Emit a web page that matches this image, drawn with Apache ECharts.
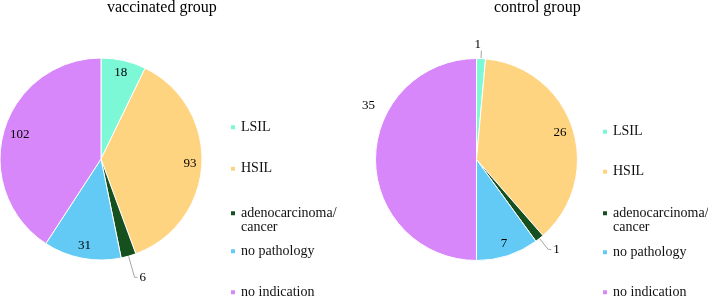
<!DOCTYPE html>
<html><head><meta charset="utf-8">
<script src="https://cdn.jsdelivr.net/npm/echarts@6/dist/echarts.min.js"></script>
<style>html,body{margin:0;padding:0;background:#fff}#c{width:708px;height:298px}</style>
</head><body><div id="c"></div>
<script>
const categories = ['LSIL', 'HSIL', 'adenocarcinoma/\ncancer', 'no pathology', 'no indication'];
const vaccinatedValues = [18, 93, 6, 31, 102];
const controlValues = [1, 26, 1, 7, 35];
const groupTitles = ['vaccinated group', 'control group'];
const sliceColors = ['#7CF8D6', '#FFD480', '#16501F', '#62CAF4', '#D787FA'];

const FONT = '"Liberation Serif","Times New Roman",serif';
const groups = [
  { title: groupTitles[0], values: vaccinatedValues, center: [101, 159], radius: 101,
    titleLeft: 107, legendLeft: 229, iconW: 6, legendCenters: [127, 168.5, 212.5, 251, 292],
    lines: { 2: [22, 3] }, insideShift: {}, outsideShift: {} },
  { title: groupTitles[1], values: controlValues, center: [476.5, 159.5], radius: 101,
    titleLeft: 494, legendLeft: 601, iconW: 6, legendCenters: [131.5, 171.5, 212.5, 252, 292],
    lines: { 0: [8, 0], 2: [14, 3] }, insideShift: { 4: [-17, -54] }, outsideShift: { 0: [-9, -6] } }
];

const titles = [], legends = [], series = [];
groups.forEach(function (g) {
  const total = g.values.reduce(function (a, b) { return a + b; }, 0);
  const small = g.values.map(function (v) { return v / total < 0.03; });
  titles.push({ text: g.title, left: g.titleLeft, top: 0, padding: 0,
    textStyle: { fontFamily: FONT, fontSize: 16, fontWeight: 'normal', color: '#000' } });
  categories.forEach(function (name, i) {
    const multi = name.indexOf('\n') >= 0;
    legends.push({
      data: [name], left: g.legendLeft, top: g.legendCenters[i] - (multi ? 21 : 7),
      padding: 0, icon: 'rect', itemWidth: g.iconW, itemHeight: g.iconW, itemGap: 0, selectedMode: false,
      formatter: function (n) { return multi ? '\n' + n : n; },
      textStyle: { fontFamily: FONT, fontSize: 14, color: '#111', lineHeight: 14.5 }
    });
  });
  series.push({
    type: 'pie', center: g.center, radius: g.radius, startAngle: 90, clockwise: true,
    avoidLabelOverlap: false, silent: true, animation: false,
    itemStyle: { borderColor: '#fff', borderWidth: 1 },
    label: { show: false, formatter: '{c}', fontFamily: FONT, fontSize: 13, color: '#000' },
    labelLine: { show: false, lineStyle: { color: '#a6a6a6', width: 1 } },
    labelLayout: function (p) {
      const s = g.outsideShift[p.dataIndex];
      return s ? { dx: s[0], dy: s[1] } : {};
    },
    data: g.values.map(function (v, i) {
      const item = { name: categories[i], value: v, itemStyle: { color: sliceColors[i] } };
      if (small[i]) {
        const ln = g.lines[i] || [15, 3];
        item.label = { show: true, position: 'outside', distanceToLabelLine: 2 };
        item.labelLine = { show: true, length: ln[0], length2: ln[1] };
      }
      return item;
    })
  });
  series.push({
    type: 'pie', center: g.center, radius: [g.radius - 26, g.radius], startAngle: 90, clockwise: true,
    avoidLabelOverlap: false, silent: true, animation: false,
    itemStyle: { color: 'rgba(0,0,0,0)', borderWidth: 0 },
    label: { show: true, position: 'inside', formatter: '{c}', fontFamily: FONT, fontSize: 13, color: '#000' },
    labelLine: { show: false },
    labelLayout: function (p) {
      const s = g.insideShift[p.dataIndex];
      if (s) return { dx: s[0], dy: s[1] };
      // "inside end": slide the label along its radius so that its box sits just inside the rim
      const r = p.labelRect;
      const lx = r.x + r.width / 2, ly = r.y + r.height / 2;
      const vx = lx - g.center[0], vy = ly - g.center[1];
      const d = Math.sqrt(vx * vx + vy * vy) || 1;
      const ux = vx / d, uy = vy / d;
      const half = Math.abs(ux) * r.width / 2 + Math.abs(uy) * r.height / 2;
      const target = g.radius - 5 - half;
      return { dx: ux * (target - d), dy: uy * (target - d) };
    },
    data: g.values.map(function (v, i) {
      return { name: categories[i], value: v, label: { show: !small[i] } };
    })
  });
});

const chart = echarts.init(document.getElementById('c'), null, { renderer: 'canvas' });
chart.setOption({ animation: false, backgroundColor: '#fff', title: titles, legend: legends, series: series });
</script>
</body></html>
